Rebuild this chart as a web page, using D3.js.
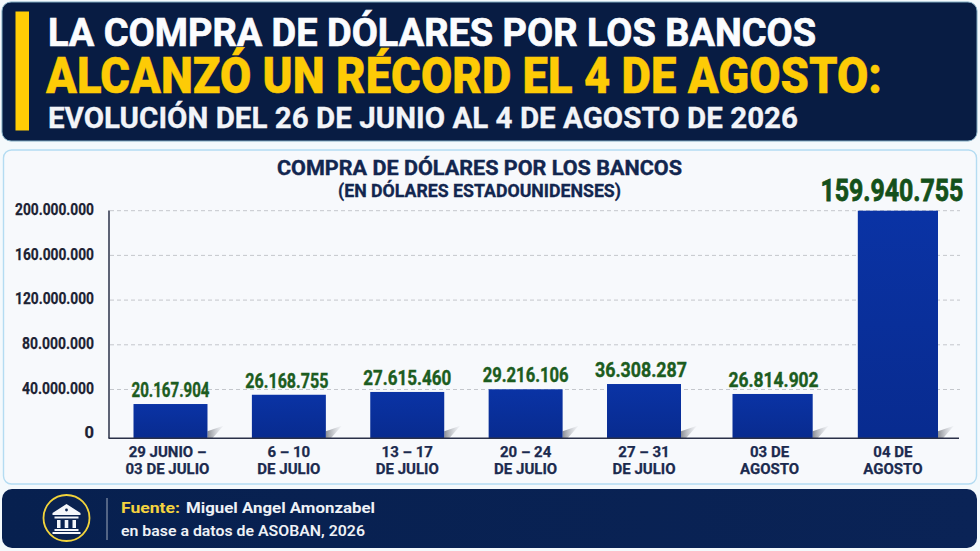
<!DOCTYPE html>
<html lang="es"><head><meta charset="utf-8">
<script src="https://cdn.jsdelivr.net/npm/d3@7"></script>
<style>html,body{margin:0;padding:0;background:#f4f9fc}svg{display:block}text{font-family:Roboto,"Liberation Sans",sans-serif}</style>
</head><body><svg id="c" width="980" height="551"></svg>
<script>
// ---- Data ----
const weeklyCategories = ["29 JUNIO –|03 DE JULIO","6 – 10|DE JULIO","13 – 17|DE JULIO","20 – 24|DE JULIO","27 – 31|DE JULIO"];
const dailyCategories = ["03 DE|AGOSTO","04 DE|AGOSTO"];
const printedLabels = [20167904,26168755,27615460,29216106,36308287,26814902,159940755];
// Bar tops as they actually stand against the reference's printed axis: the printed labels
// and the drawn bar heights disagree in the source (159.9 M reaches the 200 M gridline).
const barTopsOnAxis = [27000000,35300000,37800000,40200000,44900000,36000000,200000000];
const yTicks = [0,40000000,80000000,120000000,160000000,200000000];
const labelWidths = [78,83,88,86,92,90,143];
const labelShift = [0,-2,0,0,-3,1,-6];
const categoryShift = [-3,0,0,0,0,-3,-5];

const svg = d3.select("#c");
const defs = svg.append("defs");
const grad = (id,stops,x2,y2)=>{const g=defs.append("linearGradient").attr("id",id).attr("x1",0).attr("y1",0).attr("x2",x2).attr("y2",y2);
  stops.forEach(([o,c,a])=>g.append("stop").attr("offset",o).attr("stop-color",c).attr("stop-opacity",a===undefined?1:a));};
grad("bar",[[0,"#0a33a5"],[1,"#082b8f"]],0,1);
grad("shadow",[[0,"#85888f",0.95],[1,"#c8cbd0",0.12]],1,0);
grad("foot",[[0,"#07204f"],[1,"#0a2356"]],1,0);

const text=(s,x,y,size,weight,fill,width,heft=0)=>{
  const t=svg.append("text").attr("x",x).attr("y",y).attr("font-size",size).attr("font-weight",weight).attr("fill",fill).text(s);
  if(width) t.attr("textLength",width).attr("lengthAdjust","spacingAndGlyphs");
  if(heft) t.attr("stroke",fill).attr("stroke-width",heft);
  return t;};

// Panels
svg.append("rect").attr("x",2).attr("y",2).attr("width",975).attr("height",139).attr("rx",9).attr("fill","#081c43").attr("stroke","#7fa9c0").attr("stroke-width",1);
svg.append("rect").attr("x",3.5).attr("y",150).attr("width",973).attr("height",334).attr("rx",8).attr("fill","#f7f9fc").attr("stroke","#b4dcf2").attr("stroke-width",1.4);
svg.append("rect").attr("x",2).attr("y",489).attr("width",975).attr("height",59).attr("rx",10).attr("fill","url(#foot)");

// Header
svg.append("rect").attr("x",15.5).attr("y",11.5).attr("width",13.5).attr("height",119).attr("fill","#ffcd05");
text("LA COMPRA DE DÓLARES POR LOS BANCOS",48,46,39,700,"#fbfcfe",768,0.7);
text("ALCANZÓ UN RÉCORD EL 4 DE AGOSTO:",46,93,50,900,"#fdcb06",836,0.4);
text("EVOLUCIÓN DEL 26 DE JUNIO AL 4 DE AGOSTO DE 2026",48,127.5,29,700,"#f2f4f8",750,0.3);

// Chart title
text("COMPRA DE DÓLARES POR LOS BANCOS",277,175,21,700,"#12264f",405,0.4);
text("(EN DÓLARES ESTADOUNIDENSES)",338,197,17.5,700,"#12264f",283,0.3);

// Scales
const y = d3.scaleLinear().domain([0,200000000]).range([434.2,210.7]);
const baseY = y(0)+4;
const xWeek = d3.scaleBand().domain(weeklyCategories).range([133.5,681]).paddingInner(0.375);
const xDay = d3.scaleBand().domain(dailyCategories).range([732.5,938]).paddingInner(0.36);
const cats = weeklyCategories.concat(dailyCategories);
const left = c=>weeklyCategories.includes(c)?xWeek(c):xDay(c);
const bw = c=>weeklyCategories.includes(c)?xWeek.bandwidth():xDay.bandwidth();
const fmt = d3.formatLocale({decimal:",",thousands:".",grouping:[3],currency:["$",""]}).format(",d");

// Grid + y axis
svg.append("g").selectAll("line").data(yTicks.slice(1)).join("line")
  .attr("x1",110).attr("x2",960).attr("y1",d=>y(d)).attr("y2",d=>y(d))
  .attr("stroke","#c4c7cc").attr("stroke-width",1).attr("stroke-dasharray","4 3");
const ax = svg.append("g").attr("transform","translate(94,0)")
  .call(d3.axisLeft(y).tickValues(yTicks).tickFormat(fmt).tickSize(0).tickPadding(0));
ax.select(".domain").remove();
ax.selectAll("text").attr("font-size",16.5).attr("font-weight",700).attr("fill","#1c2233")
  .attr("stroke","#1c2233").attr("stroke-width",0.25)
  .attr("dy",".32em").attr("transform","translate(0,-1.5)").attr("textLength",d=>d===0?null:(d===80000000||d===40000000?72:79))
  .attr("lengthAdjust","spacingAndGlyphs").style("font-family","Roboto,sans-serif");
svg.append("line").attr("x1",109).attr("x2",109).attr("y1",210.5).attr("y2",baseY).attr("stroke","#2a3048").attr("stroke-width",1.5);

// Shadows
svg.append("g").selectAll("path").data(cats).join("path")
  .attr("d",c=>{const r=left(c)+bw(c);
    return d3.line()([[r,baseY],[r,baseY-7],[r+16,baseY-12.5],[r+5,baseY]]);})
  .attr("fill","url(#shadow)");
// Bars
svg.append("g").selectAll("rect").data(cats).join("rect")
  .attr("x",left).attr("width",bw)
  .attr("y",(c,i)=>y(barTopsOnAxis[i]))
  .attr("height",(c,i)=>baseY-y(barTopsOnAxis[i]))
  .attr("fill","url(#bar)");
// Baseline
svg.append("line").attr("x1",108.5).attr("x2",959).attr("y1",baseY).attr("y2",baseY).attr("stroke","#2a3048").attr("stroke-width",1.5);

// Value labels
svg.append("g").selectAll("text").data(cats).join("text")
  .attr("x",(c,i)=>left(c)+bw(c)/2+labelShift[i])
  .attr("y",(c,i)=>y(barTopsOnAxis[i])-(i===6?10:7))
  .attr("text-anchor","middle").attr("font-weight",700)
  .attr("font-size",(c,i)=>i===6?31:20.5)
  .attr("fill",(c,i)=>i===6?"#14501a":"#1c5c20")
  .attr("stroke",(c,i)=>i===6?"#14501a":"#1c5c20").attr("stroke-width",(c,i)=>i===6?0.8:0.4)
  .attr("textLength",(c,i)=>labelWidths[i]).attr("lengthAdjust","spacingAndGlyphs")
  .text((c,i)=>fmt(printedLabels[i]));

// Category labels
const cg = svg.append("g").selectAll("text").data(cats).join("text")
  .attr("text-anchor","middle").attr("font-size",15).attr("font-weight",700).attr("fill","#1b2a4e")
  .attr("stroke","#1b2a4e").attr("stroke-width",0.25);
cg.each(function(c,i){
  const cx=left(c)+bw(c)/2+categoryShift[i];
  c.split("|").forEach((l,j)=>d3.select(this).append("tspan").attr("x",cx).attr("y",457+j*16.5).text(l));
});

// Footer
const ic = svg.append("g").attr("transform","translate(66.5,518)");
ic.append("circle").attr("r",23).attr("fill","#0a2250").attr("stroke","#f2d43b").attr("stroke-width",1.8);
ic.append("path").attr("fill","#f4f6fa").attr("d","M0-14 L14-5 V-3 H-14 V-5 Z M-12-1.5H12V0.5H-12Z M-9.5 2h3.5v8h-3.5Z M-1.8 2h3.6v8h-3.6Z M6 2h3.5v8H6Z M-12 11H12V13H-12Z M-14 14H14V16H-14Z");
ic.append("circle").attr("cy",-8).attr("r",1.4).attr("fill","#0a2250");
svg.append("line").attr("x1",107).attr("x2",107).attr("y1",498).attr("y2",540).attr("stroke","#9fa9bb").attr("stroke-width",1);
text("Fuente:",121,513,14.5,700,"#f4d33f",59);
text("Miguel Angel Amonzabel",186,513,14.5,700,"#eef1f6",189);
text("en base a datos de ASOBAN, 2026",121,536,14.5,600,"#eef1f6",244);
</script></body></html>
